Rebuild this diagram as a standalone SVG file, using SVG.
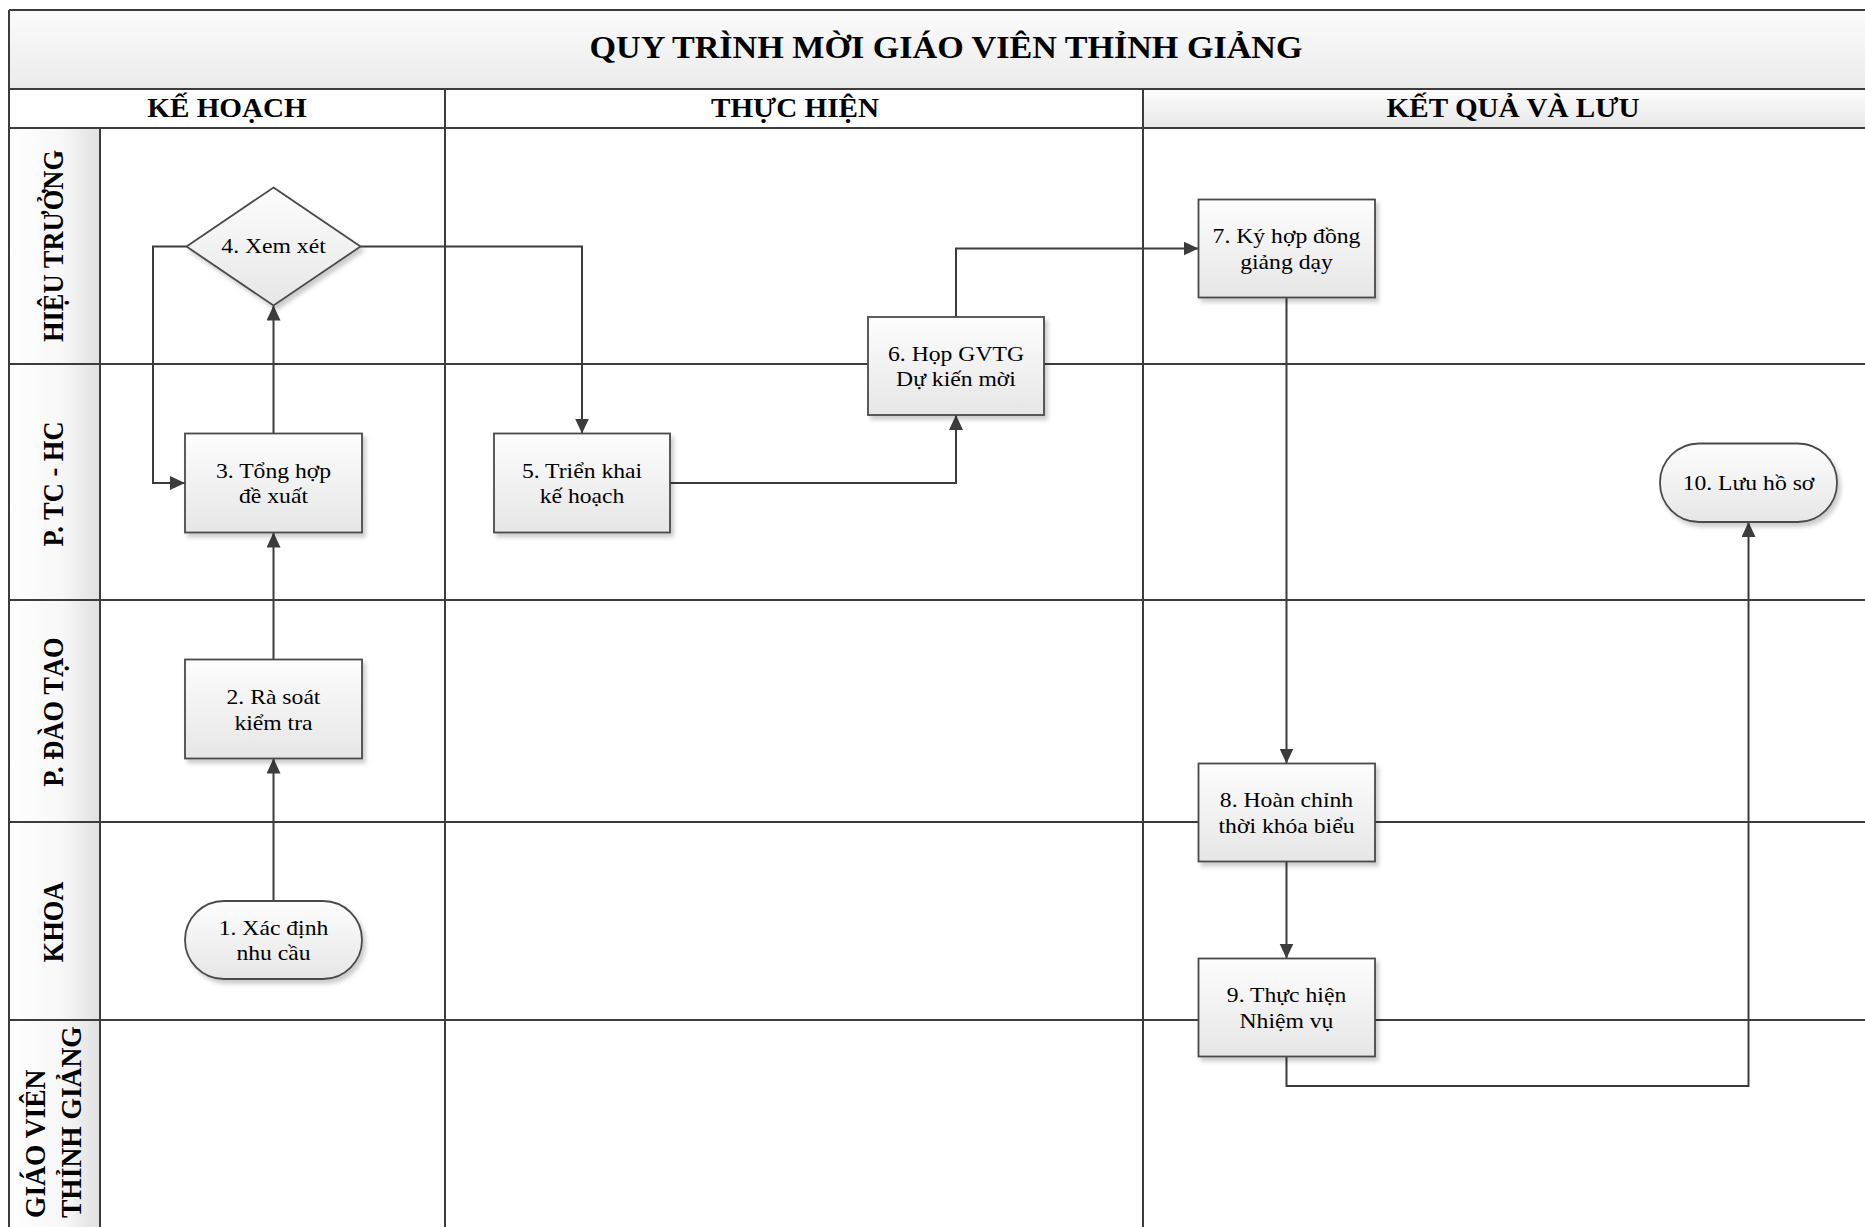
<svg xmlns="http://www.w3.org/2000/svg" width="1865" height="1227" viewBox="0 0 1865 1227">
<style>
.grid{stroke:#3c3c3c;stroke-width:2;fill:none}
.conn{stroke:#3c3c3c;stroke-width:2;fill:none;marker-end:url(#arr)}
.node{fill:url(#gNode);stroke:#4a4a4a;stroke-width:1.8;filter:url(#sh)}
.nt{font-family:"Liberation Serif","Times New Roman",serif;font-size:21.5px;text-anchor:middle;fill:#000}
.hd{font-family:"Liberation Serif","Times New Roman",serif;font-size:26.5px;font-weight:bold;text-anchor:middle;fill:#000}
.ttl{font-family:"Liberation Serif","Times New Roman",serif;font-size:31px;font-weight:bold;text-anchor:middle;fill:#000}
.ln{font-family:"Liberation Serif","Times New Roman",serif;font-size:26.5px;font-weight:bold;text-anchor:middle;fill:#000}
.ls{font-family:"Liberation Serif","Times New Roman",serif;font-size:27.5px;font-weight:bold;text-anchor:start;fill:#000}
</style>
<defs>
<linearGradient id="gTitle" x1="0" y1="0" x2="0" y2="1"><stop offset="0" stop-color="#fbfbfb"/><stop offset="1" stop-color="#ebebeb"/></linearGradient>
<linearGradient id="gHead" x1="0" y1="0" x2="0" y2="1"><stop offset="0" stop-color="#fcfcfc"/><stop offset="1" stop-color="#e8e8e8"/></linearGradient>
<linearGradient id="gLane" x1="0" y1="0" x2="1" y2="0"><stop offset="0" stop-color="#ffffff"/><stop offset="0.6" stop-color="#f7f7f7"/><stop offset="1" stop-color="#e0e0e0"/></linearGradient>
<linearGradient id="gNode" x1="0" y1="0" x2="0" y2="1"><stop offset="0" stop-color="#fdfdfd"/><stop offset="1" stop-color="#e6e6e6"/></linearGradient>
<filter id="sh" x="-10%" y="-10%" width="130%" height="140%"><feDropShadow dx="3" dy="4" stdDeviation="2" flood-color="#000" flood-opacity="0.2"/></filter>
<marker id="arr" markerUnits="userSpaceOnUse" markerWidth="17" markerHeight="15" refX="15" refY="7" orient="auto"><path d="M0,0 L15,7 L0,14 Z" fill="#3c3c3c"/></marker>
</defs>
<rect x="0" y="0" width="1865" height="1227" fill="#ffffff"/>
<g id="pool">
<rect x="9" y="10" width="1874" height="79" fill="url(#gTitle)"/>
<rect x="9" y="89" width="436" height="39" fill="#ffffff"/>
<rect x="445" y="89" width="698" height="39" fill="#ffffff"/>
<rect x="1143" y="89" width="740" height="39" fill="url(#gHead)"/>
<rect x="9" y="128" width="91" height="1110" fill="url(#gLane)"/>
<path class="grid" d="M9,10 H1883 M9,89 H1883 M9,128 H1883 M9,364 H1883 M9,600 H1883 M9,822 H1883 M9,1020 H1883 M9,10 V1240 M100,128 V1240 M445,89 V1240 M1143,89 V1240"/>
<text class="ttl" transform="translate(946,0) scale(1.1,1)" x="0" y="58">QUY TRÌNH MỜI GIÁO VIÊN THỈNH GIẢNG</text>
<text class="hd" transform="translate(227,0) scale(1.1,1)" x="0" y="117">KẾ HOẠCH</text>
<text class="hd" transform="translate(795,0) scale(1.1,1)" x="0" y="117">THỰC HIỆN</text>
<text class="hd" transform="translate(1513,0) scale(1.1,1)" x="0" y="117">KẾT QUẢ VÀ LƯU</text>
</g>
<g id="lane-labels">
<text class="ln" transform="translate(63,246) scale(1.1,1) rotate(-90)" x="0" y="0">HIỆU TRƯỞNG</text>
<text class="ln" transform="translate(63,484) scale(1.1,1) rotate(-90)" x="0" y="0">P. TC - HC</text>
<text class="ln" transform="translate(63,712) scale(1.1,1) rotate(-90)" x="0" y="0">P. ĐÀO TẠO</text>
<text class="ln" transform="translate(63,922) scale(1.1,1) rotate(-90)" x="0" y="0">KHOA</text>
<text class="ls" transform="translate(45,1218) scale(1.1,1) rotate(-90)" x="0" y="0">GIÁO VIÊN</text>
<text class="ls" transform="translate(81,1218) scale(1.1,1) rotate(-90)" x="0" y="0">THỈNH GIẢNG</text>
</g>
<g id="connectors">
<path class="conn" d="M273.5,901 V758.5"/>
<path class="conn" d="M273.5,659.5 V532.5"/>
<path class="conn" d="M273.5,433.5 V305.5"/>
<path class="conn" d="M186.5,246.5 H153 V483 H185"/>
<path class="conn" d="M360.5,246.5 H582 V433.5"/>
<path class="conn" d="M670,483 H956 V415"/>
<path class="conn" d="M956,317 V248.5 H1198.5"/>
<path class="conn" d="M1286.5,297.5 V763.5"/>
<path class="conn" d="M1286.5,861.5 V958.5"/>
<path class="conn" d="M1286.5,1056.5 V1086 H1748.5 V522"/>
</g>
<g id="n1"><rect class="node" x="185" y="901" width="177" height="78" rx="39" ry="39"/><text class="nt" transform="translate(273.5,0) scale(1.1,1)"><tspan x="0" y="935">1. Xác định</tspan><tspan x="0" y="960">nhu cầu</tspan></text></g>
<g id="n2"><rect class="node" x="185" y="659.5" width="177" height="99"/><text class="nt" transform="translate(273.5,0) scale(1.1,1)"><tspan x="0" y="704">2. Rà soát</tspan><tspan x="0" y="730">kiểm tra</tspan></text></g>
<g id="n3"><rect class="node" x="185" y="433.5" width="177" height="99"/><text class="nt" transform="translate(273.5,0) scale(1.1,1)"><tspan x="0" y="478">3. Tổng hợp</tspan><tspan x="0" y="503">đề xuất</tspan></text></g>
<g id="n4"><polygon class="node" points="273.5,187.5 360.5,246.5 273.5,305.5 186.5,246.5"/><text class="nt" transform="translate(273.5,0) scale(1.1,1)" x="0" y="253.5">4. Xem xét</text></g>
<g id="n5"><rect class="node" x="494" y="433.5" width="176" height="99"/><text class="nt" transform="translate(582,0) scale(1.1,1)"><tspan x="0" y="478">5. Triển khai</tspan><tspan x="0" y="503">kế hoạch</tspan></text></g>
<g id="n6"><rect class="node" x="868" y="317" width="176" height="98"/><text class="nt" transform="translate(956,0) scale(1.1,1)"><tspan x="0" y="361">6. Họp GVTG</tspan><tspan x="0" y="386">Dự kiến mời</tspan></text></g>
<g id="n7"><rect class="node" x="1198.5" y="199.5" width="176.5" height="98"/><text class="nt" transform="translate(1286.5,0) scale(1.1,1)"><tspan x="0" y="243.5">7. Ký hợp đồng</tspan><tspan x="0" y="269.5">giảng dạy</tspan></text></g>
<g id="n8"><rect class="node" x="1198.5" y="763.5" width="176.5" height="98"/><text class="nt" transform="translate(1286.5,0) scale(1.1,1)"><tspan x="0" y="807.5">8. Hoàn chỉnh</tspan><tspan x="0" y="833.5">thời khóa biểu</tspan></text></g>
<g id="n9"><rect class="node" x="1198.5" y="958.5" width="176.5" height="98"/><text class="nt" transform="translate(1286.5,0) scale(1.1,1)"><tspan x="0" y="1002.5">9. Thực hiện</tspan><tspan x="0" y="1028.5">Nhiệm vụ</tspan></text></g>
<g id="n10"><rect class="node" x="1660" y="443.5" width="177" height="78.5" rx="39" ry="39"/><text class="nt" transform="translate(1748.5,0) scale(1.1,1)" x="0" y="490">10. Lưu hồ sơ</text></g>
</svg>
